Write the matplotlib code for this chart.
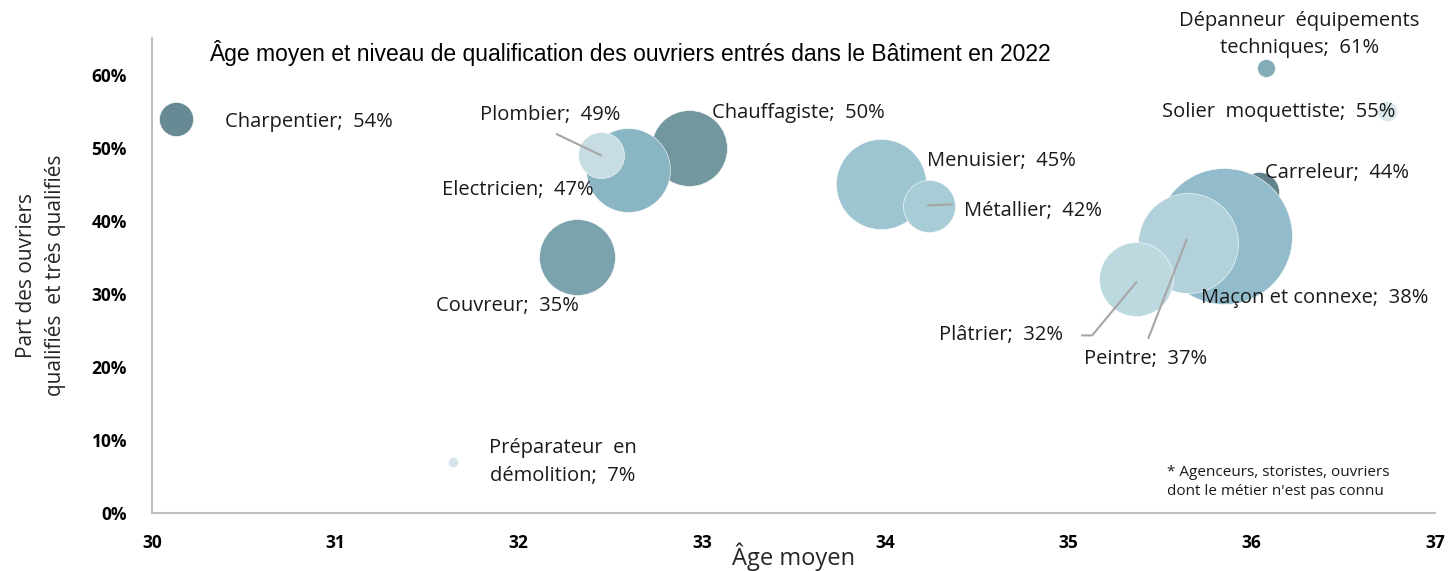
import matplotlib
matplotlib.use('Agg')
import matplotlib.pyplot as plt
import numpy as np

plt.rcParams['font.family'] = ['Open Sans', 'DejaVu Sans']

# metiers du batiment : age moyen, part de qualifies (%), effectif (taille des bulles)
metiers = ['Charpentier', 'Chauffagiste', 'Electricien', 'Plombier', 'Couvreur',
           'Menuisier', 'Métallier', 'Carreleur', 'Maçon et connexe', 'Peintre',
           'Plâtrier', 'Dépanneur  équipements\ntechniques', 'Solier  moquettiste',
           'Préparateur  en\ndémolition']
age = [30.13, 32.93, 32.60, 32.45, 32.32, 33.98, 34.24, 36.04, 35.85, 35.65,
       35.37, 36.08, 36.74, 31.64]
qualif = [54, 50, 47, 49, 35, 45, 42, 44, 38, 37, 32, 61, 55, 7]
effectif = [2900, 14400, 17600, 5300, 14400, 20300, 6800, 4000, 46200, 25000,
            13700, 800, 1000, 250]
couleurs = ['#688a94', '#72979f', '#8ab5c2', '#c8dde3', '#7ba3ae', '#9cc5d1',
            '#a9cdd7', '#62838c', '#92bccb', '#b3d1db', '#bdd9e0', '#82adb8',
            '#dbe9ec', '#d3e3e9']

# decalage des etiquettes (pixels) et alignement
decal = [(49, -3, 'left'), (23, 35, 'left'), (-186, -20, 'left'), (-121, 40, 'left'),
         (-141, -49, 'left'), (46, 23, 'left'), (35, -5, 'left'), (6, 19, 'left'),
         (-23, -62, 'left'), (-104, -116, 'left'), (-197, -56, 'left'), (33, 33, 'center'),
         (8, -1, 'right'), (110, 0, 'center')]
# lignes de rappel : points en pixels relatifs au centre de la bulle
rappels = {'Plombier': [(0, 0), (-44, 21)],
           'Métallier': [(-1, 1), (23, 2)],
           'Plâtrier': [(0, -3), (-44, -56), (-54, -56)],
           'Peintre': [(-1, 3), (-39, -95)]}

fig = plt.figure(figsize=(14.54, 5.71), dpi=100)
ax = fig.add_axes([0.1045, 0.1016, 0.8824, 0.831])
ax.set_xlim(30, 37)
ax.set_ylim(0, 0.65)
ax.set_autoscale_on(False)

px_pt = 72 / fig.dpi
for i in range(len(metiers)):
    rayon = np.sqrt(effectif[i] / 10)
    ax.scatter(age[i], qualif[i] / 100, s=(2 * rayon * px_pt) ** 2, color=couleurs[i],
               edgecolors='white', linewidths=0.4, zorder=2 + i * 0.01)

for i, nom in enumerate(metiers):
    dx, dy, ha = decal[i]
    ax.annotate('%s;  %d%%' % (nom, qualif[i]), (age[i], qualif[i] / 100),
                xytext=(dx, dy), textcoords='offset pixels', ha=ha, va='center',
                fontsize=14.5, color='#1a1a1a', linespacing=1.5, zorder=5)

for nom, pts in rappels.items():
    i = metiers.index(nom)
    cx, cy = ax.transData.transform((age[i], qualif[i] / 100))
    xy = np.array([ax.transData.inverted().transform((cx + a, cy + b)) for a, b in pts])
    ax.plot(xy[:, 0], xy[:, 1], color='#a6a6a6', lw=1.5, zorder=4)

ax.set_xticks(range(30, 38))
ax.set_yticks(np.arange(0, 0.61, 0.1))
ax.set_yticklabels(['%d%%' % v for v in range(0, 61, 10)])
ax.tick_params(length=0, labelsize=12.5)
for lab in ax.get_xticklabels() + ax.get_yticklabels():
    lab.set_fontweight('bold')
ax.tick_params(axis='y', pad=18)
ax.tick_params(axis='x', pad=15)
for s in ['top', 'right']:
    ax.spines[s].set_visible(False)
for s in ['left', 'bottom']:
    ax.spines[s].set_color('#bfbfbf')
    ax.spines[s].set_linewidth(1.5)

ax.set_xlabel('Âge moyen', fontsize=17, color='#262626', labelpad=-7)
ax.set_ylabel('Part des ouvriers\nqualifiés  et très qualifiés', fontsize=15,
              color='#262626', labelpad=18, linespacing=1.55)

fig.text(0.433, 0.907, 'Âge moyen et niveau de qualification des ouvriers entrés dans le Bâtiment en 2022',
         ha='center', va='center', fontsize=16.5,
         family=['Liberation Sans Narrow', 'Liberation Sans'], color='black')

ax.text(35.54, 0.042, "* Agenceurs, storistes, ouvriers\ndont le métier n'est pas connu",
        fontsize=11, color='#1a1a1a', va='center', ha='left', linespacing=1.35)

fig.savefig('out.png', dpi=100)
